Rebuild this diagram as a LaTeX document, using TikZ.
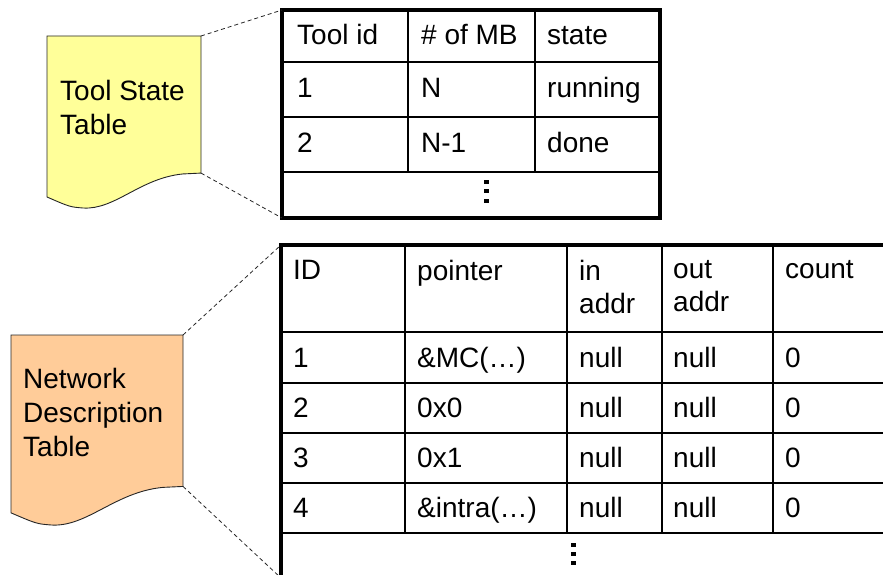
\documentclass[tikz,border=0pt]{standalone}
\usepackage{fontspec}
\setmainfont{Liberation Sans}
\definecolor{notepaper}{HTML}{FFFF99}
\definecolor{notepeach}{HTML}{FFCC99}
\tikzset{
  x=1pt, y=-1pt,
  % document symbol with a wavy lower edge, drawn in a unit box
  docshape/.pic={
    \path[pic actions] (0,0) -- (1,0) -- (1,0.797) -- (0.883,0.802)
      .. controls (0.604,0.826) and (0.442,1.012) .. (0.234,1.0)
      .. controls (0.149,0.994) .. (0,0.936) -- cycle;
    \coordinate (-tr) at (1,0);
    \coordinate (-br) at (1,0.797);
  },
  docframe/.style={draw=black!85, line width=0.9pt},
  notetext/.style={font=\fontsize{28}{34}\selectfont, align=left, inner sep=0pt, anchor=north west},
  celltext/.style={font=\fontsize{28}{33}\selectfont, inner sep=0pt, anchor=base west},
  headtext/.style={font=\fontsize{28}{33}\selectfont, align=left, inner sep=0pt, anchor=north west},
  tablebox/.style={draw, line width=3.5pt, inner sep=0pt, outer sep=0pt},
  gridline/.style={line width=1.6pt},
  zoomline/.style={draw=black!85, line width=0.8pt, dash pattern=on 4pt off 3pt},
  dotmark/.style={fill=black},
}
\begin{document}
\begin{tikzpicture}
\useasboundingbox (0,0) rectangle (883,575);
\clip (0,0) rectangle (883,575);

% ---------- Tool State Table ----------
\pic[docframe, fill=notepaper, xscale=154, yscale=172] (ts) at (47,36) {docshape};
\node[notetext] (tslabel) at (60,80) {Tool State\\Table};

% grid of the tool state table
\draw[gridline] (282,62) -- (660,62) (282,117) -- (660,117) (282,172) -- (660,172);
\draw[gridline] (408,10) -- (408,172) (535,10) -- (535,172);
\node[tablebox, minimum width=378pt, minimum height=208pt] (tstab) at (471,114) {};

\node[celltext] (ts-h1) at (297,45) {Tool id};
\node[celltext] (ts-h2) at (421,45) {\# of MB};
\node[celltext] (ts-h3) at (547,45) {state};
\node[celltext] (ts-a1) at (297,98) {1};
\node[celltext] (ts-a2) at (421,98) {N};
\node[celltext] (ts-a3) at (547,98) {running};
\node[celltext] (ts-b1) at (297,153) {2};
\node[celltext] (ts-b2) at (421,153) {N-1};
\node[celltext] (ts-b3) at (547,153) {done};
\foreach \yy in {182,191,201} \fill[dotmark] (484,\yy-2.3) rectangle (488.5,\yy+2.3);

\draw[zoomline] (ts-tr) -- (tstab.north west);
\draw[zoomline] (ts-br) -- (tstab.south west);

% ---------- Network Description Table ----------
\pic[docframe, fill=notepeach, xscale=172, yscale=190] (nd) at (11,335) {docshape};
\node[notetext] (ndlabel) at (23,368) {Network\\Description\\Table};

% grid of the network description table
\draw[gridline] (281,332) -- (890,332) (281,383) -- (890,383) (281,433) -- (890,433)
                (281,483) -- (890,483) (281,533) -- (890,533);
\draw[gridline] (405,245) -- (405,533) (567,245) -- (567,533)
                (662,245) -- (662,533) (773,245) -- (773,533);
\node[tablebox, minimum width=609pt, minimum height=333pt] (ndtab) at (585.5,411.5) {};

\node[headtext] (nd-h1) at (293,260) {ID};
\node[headtext] (nd-h2) at (417,260) {pointer};
\node[headtext] (nd-h3) at (579,260) {in\\addr};
\node[headtext] (nd-h4) at (673,260) {out\\addr};
\node[headtext] (nd-h5) at (785,260) {count};

\node[celltext] (nd-a1) at (293,367) {1};
\node[celltext] (nd-a2) at (417,367) {\&MC(…)};
\node[celltext] (nd-a3) at (579,367) {null};
\node[celltext] (nd-a4) at (673,367) {null};
\node[celltext] (nd-a5) at (785,367) {0};

\node[celltext] (nd-b1) at (293,417) {2};
\node[celltext] (nd-b2) at (417,417) {0x0};
\node[celltext] (nd-b3) at (579,417) {null};
\node[celltext] (nd-b4) at (673,417) {null};
\node[celltext] (nd-b5) at (785,417) {0};

\node[celltext] (nd-c1) at (293,467) {3};
\node[celltext] (nd-c2) at (417,467) {0x1};
\node[celltext] (nd-c3) at (579,467) {null};
\node[celltext] (nd-c4) at (673,467) {null};
\node[celltext] (nd-c5) at (785,467) {0};

\node[celltext] (nd-d1) at (293,517) {4};
\node[celltext] (nd-d2) at (417,517) {\&intra(…)};
\node[celltext] (nd-d3) at (579,517) {null};
\node[celltext] (nd-d4) at (673,517) {null};
\node[celltext] (nd-d5) at (785,517) {0};
\foreach \yy in {545,554,563} \fill[dotmark] (571,\yy-2.3) rectangle (575.5,\yy+2.3);

\draw[zoomline] (nd-tr) -- (ndtab.north west);
\draw[zoomline] (nd-br) -- (ndtab.south west);
\end{tikzpicture}
\end{document}
